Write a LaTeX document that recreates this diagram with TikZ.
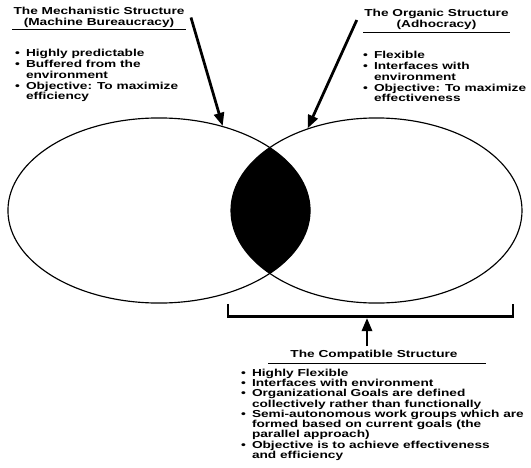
\documentclass[tikz,border=0pt]{standalone}
\usepackage{fontspec}
\newfontfamily\figfont{Liberation Sans}[FakeStretch=1.35]
\usetikzlibrary{arrows.meta,calc,shapes.geometric}

\newcommand{\bul}{\makebox[0.36cm][l]{\textbullet}}
\newcommand{\ind}{\hspace*{0.36cm}}

\begin{document}
\begin{tikzpicture}[
  font=\figfont\bfseries\fontsize{9.6}{10.3}\selectfont,
  struct/.style={draw, ellipse, line width=1.1pt, inner sep=0pt, minimum width=#1, minimum height=6.17cm},
  title/.style={align=center, inner sep=1pt},
  list/.style={align=left, anchor=north west, inner sep=0pt},
  pointer/.style={-{Triangle[length=4.4mm,width=3.4mm]}, line width=2.6pt},
  brace/.style={line width=2.2pt},
  rule/.style={line width=0.9pt}
]
\useasboundingbox (0,0) rectangle (17.7,15.6);

\node[title] (mtitle) at (3.3,15.017) {The Mechanistic Structure\\(Machine Bureaucracy)};
\node[title] (otitle) at (14.55,14.967) {The Organic Structure\\(Adhocracy)};
\draw[rule] ([yshift=-1pt]mtitle.south west) -- ([yshift=-1pt]mtitle.south east);
\draw[rule] ([yshift=-2pt]otitle.south west) -- ([yshift=-2pt]otitle.south east);

\node[list] (mlist) at (0.5,13.967) {\bul Highly predictable\\\bul Buffered from the\\\ind environment\\\bul Objective: To maximize\\\ind efficiency};
\node[list] (olist) at (12.1,13.9) {\bul Flexible\\\bul Interfaces with\\\ind environment\\\bul Objective: To maximize\\\ind effectiveness};

\node[struct=10.07cm] (mech) at (5.3,8.583) {};
\node[struct=9.7cm] (org) at (12.55,8.583) {};
\begin{scope}
  \clip (5.3,8.583) ellipse [x radius=5.035cm, y radius=3.085cm];
  \fill (12.55,8.583) ellipse [x radius=4.85cm, y radius=3.085cm];
\end{scope}

\draw[pointer] ([xshift=5pt]mtitle.east) -- (mech.53);
\draw[pointer] ([xshift=-6pt,yshift=-1pt]otitle.west) -- (org.130);

\coordinate (bl) at (7.6,5.467);
\coordinate (br) at (17.1,5.467);
\coordinate (bmid) at (12.233,5.0);
\draw[brace] (bl) -- ++(0,-0.42) -| (br);

\node[title] (ctitle) at (12.467,3.767) {The Compatible Structure};
\draw[rule] ([xshift=-0.7cm,yshift=-2pt]ctitle.south west) -- ([xshift=0.9cm,yshift=-2pt]ctitle.south east);
\draw[pointer] ([yshift=0.1cm]ctitle.north -| bmid) -- (bmid);

\node[list, font=\figfont\bfseries\fontsize{9.6}{9.7}\selectfont] (clist) at (8.033,3.3) {\bul Highly Flexible\\\bul Interfaces with environment\\\bul Organizational Goals are defined\\\ind collectively rather than functionally\\\bul Semi-autonomous work groups which are\\\ind formed based on current goals (the\\\ind parallel approach)\\\bul Objective is to achieve effectiveness\\\ind and efficiency};
\end{tikzpicture}
\end{document}
